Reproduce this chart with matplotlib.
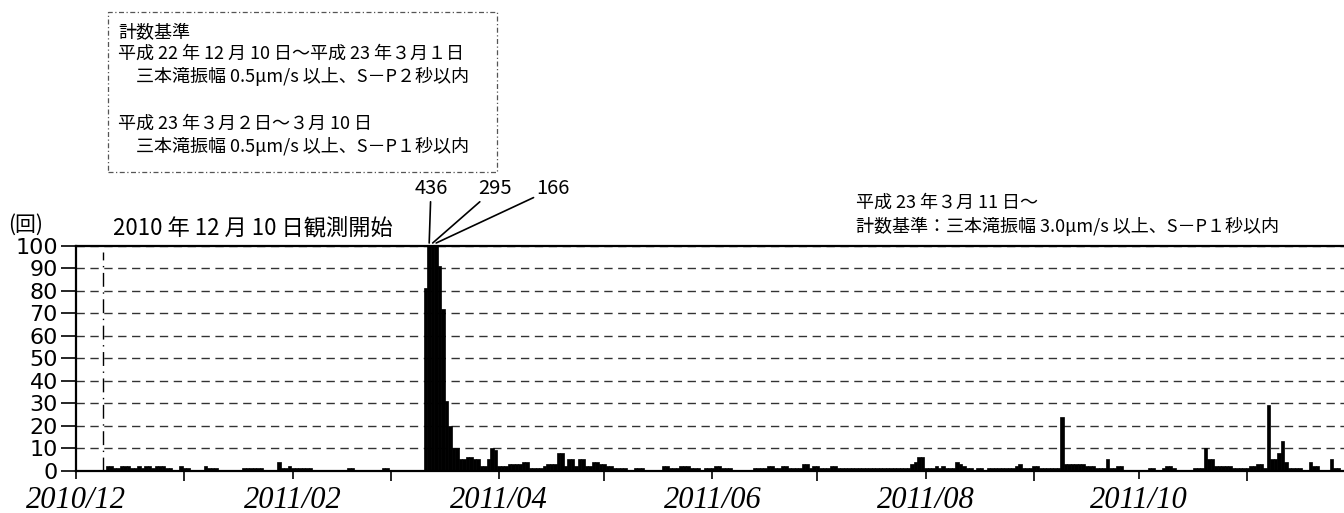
import numpy as np
import pandas as pd
import matplotlib
matplotlib.use('Agg')
import matplotlib.pyplot as plt
import matplotlib.dates as mdates

JP = ['Noto Sans CJK JP', 'DejaVu Sans']

# daily counts, one list per month (index 0 = 1st of the month)
dec_2010 = [0, 0, 0, 0, 0, 0, 0, 0, 0, 2, 2, 1, 1, 2, 2, 2, 1, 1, 2, 1,
            2, 2, 1, 2, 2, 2, 1, 1, 0, 0, 2]
jan_2011 = [1, 1, 0, 0, 0, 0, 2, 1, 1, 1, 0, 0, 0, 0, 0, 0, 0, 1, 1, 1,
            1, 1, 1, 0, 0, 0, 0, 4, 1, 1, 2]
feb_2011 = [1, 1, 1, 1, 1, 1, 0, 0, 0, 0, 0, 0, 0, 0, 0, 0, 1, 1, 0, 0,
            0, 0, 0, 0, 0, 0, 1, 1]
mar_2011 = [0, 0, 0, 0, 0, 0, 0, 0, 0, 0, 81, 436, 295, 166, 91, 72, 31, 20, 10, 10,
            5, 5, 6, 6, 5, 5, 2, 2, 5, 10, 9]
apr_2011 = [2, 2, 2, 3, 3, 3, 3, 4, 4, 1, 1, 1, 1, 2, 3, 3, 3, 8, 8, 2,
            5, 5, 2, 5, 5, 2, 2, 4, 4, 3]
may_2011 = [3, 2, 2, 1, 1, 1, 1, 0, 0, 1, 1, 1, 0, 0, 0, 0, 0, 2, 2, 1,
            1, 1, 2, 2, 2, 1, 1, 1, 0, 1, 1]
jun_2011 = [1, 2, 2, 1, 1, 1, 0, 0, 0, 0, 0, 0, 1, 1, 1, 1, 2, 2, 1, 1,
            2, 2, 1, 1, 1, 1, 3, 3, 1, 2]
jul_2011 = [2, 1, 1, 1, 2, 2, 1, 1, 1, 1, 1, 1, 1, 1, 1, 1, 1, 1, 1, 1,
            1, 1, 1, 1, 1, 1, 1, 3, 4, 6, 6]
aug_2011 = [1, 1, 1, 2, 1, 2, 1, 1, 1, 4, 3, 2, 1, 1, 0, 1, 1, 0, 1, 1,
            1, 1, 1, 1, 1, 1, 2, 3, 1, 1, 1]
sep_2011 = [2, 2, 1, 1, 1, 1, 1, 1, 24, 3, 3, 3, 3, 3, 3, 2, 2, 2, 1, 1,
            1, 5, 1, 1, 2, 2, 0, 0, 0, 0]
oct_2011 = [0, 0, 0, 1, 1, 0, 0, 1, 2, 2, 1, 0, 0, 0, 0, 0, 1, 1, 1, 10,
            5, 5, 2, 2, 2, 2, 2, 1, 1, 1, 1]
nov_2011 = [1, 2, 2, 3, 3, 1, 29, 5, 5, 8, 13, 4, 1, 1, 1, 1, 0, 0, 4, 2,
            2, 0, 0, 0, 5, 1, 1, 0, 0, 0]

months = ['2010-12', '2011-01', '2011-02', '2011-03', '2011-04', '2011-05',
          '2011-06', '2011-07', '2011-08', '2011-09', '2011-10', '2011-11']
monthly = [dec_2010, jan_2011, feb_2011, mar_2011, apr_2011, may_2011,
           jun_2011, jul_2011, aug_2011, sep_2011, oct_2011, nov_2011]

# labelled off-scale days
big_days = ['2011-03-12', '2011-03-13', '2011-03-14']
big_labels = ['436', '295', '166']

title = '2010 年 12 月 10 日観測開始'
unit = '(回)'
box_lines = ['計数基準',
             '平成 22 年 12 月 10 日～平成 23 年３月１日',
             '　三本滝振幅 0.5μm/s 以上、S－P２秒以内',
             '',
             '平成 23 年３月２日～３月 10 日',
             '　三本滝振幅 0.5μm/s 以上、S－P１秒以内']
note_lines = ['平成 23 年３月 11 日～',
              '計数基準：三本滝振幅 3.0μm/s 以上、S－P１秒以内']

dates = []
counts = []
for m, vals in zip(months, monthly):
    dates.extend(pd.date_range(m + '-01', periods=len(vals), freq='D'))
    counts.extend(vals)
dates = pd.DatetimeIndex(dates)
counts = np.array(counts)

W, H = 1344, 513
fig = plt.figure(figsize=(W / 100, H / 100), dpi=100)

def fx(px):
    return px / W

def fy(py):
    return 1 - py / H

ax = fig.add_axes([fx(76), fy(470.7), 1 - fx(76), (470.7 - 245.7) / H])

ax.bar(dates, counts, width=1.0, align='center', color='k',
       edgecolor='k', linewidth=0.5, zorder=3)

start = pd.Timestamp('2010-12-01')
ax.set_xlim(start, start + pd.Timedelta(days=362.6))
ax.set_ylim(0, 100)

ax.set_yticks(np.arange(0, 101, 10))
ax.yaxis.grid(True, linestyle=(0, (6, 4)), color='#333333', linewidth=1.0)
ax.set_axisbelow(True)
ax.tick_params(axis='y', direction='out', length=11, width=1.2, pad=2,
               labelsize=16)
for lab in ax.get_yticklabels():
    lab.set_fontfamily('DejaVu Sans')

ax.xaxis.set_major_locator(mdates.MonthLocator(bymonth=[12, 2, 4, 6, 8, 10]))
ax.xaxis.set_minor_locator(mdates.MonthLocator())
ax.xaxis.set_major_formatter(mdates.DateFormatter('%Y/%m'))
ax.tick_params(axis='x', which='major', direction='out', length=6, width=1.2,
               pad=5, labelsize=22)
ax.tick_params(axis='x', which='minor', direction='out', length=7, width=1.2)
for lab in ax.get_xticklabels():
    lab.set_fontfamily('Liberation Serif')
    lab.set_fontstyle('italic')

for side in ['left', 'top', 'bottom']:
    ax.spines[side].set_linewidth(1.6)
ax.spines['right'].set_visible(False)

# observation start marker
obs = pd.Timestamp('2010-12-08 15:00')
ax.plot([obs, obs], [0, 97], color='k', linewidth=1.0,
        linestyle=(0, (10, 4, 1, 4)), zorder=4)

# off-scale values
text_x = [431, 495, 553]
for d, lab, tx in zip(big_days, big_labels, text_x):
    ax.annotate(lab, xy=(pd.Timestamp(d), 101.2), xycoords='data',
                xytext=(fx(tx), fy(199)), textcoords='figure fraction',
                ha='center', va='bottom', fontsize=14.5, family=JP,
                annotation_clip=False,
                arrowprops=dict(arrowstyle='-', lw=1.2, color='k',
                                shrinkA=0, shrinkB=0))

fig.text(fx(8), fy(225), unit, fontsize=15, family=JP, va='center', ha='left')
fig.text(fx(113), fy(228), title, fontsize=16, family=JP, va='center', ha='left')

# criteria box
box_y = [33, 54, 77, 100, 124, 147]
for line, y in zip(box_lines, box_y):
    fig.text(fx(118), fy(y), line, fontsize=13, family=JP, va='center', ha='left')
box = plt.Rectangle((fx(108), fy(172)), fx(497) - fx(108), fy(12) - fy(172),
                    transform=fig.transFigure, fill=False, edgecolor='#555555',
                    linewidth=0.9, linestyle=(0, (4, 2, 1, 2)))
fig.patches.append(box)

for line, y in zip(note_lines, [203, 226]):
    fig.text(fx(856), fy(y), line, fontsize=13, family=JP, va='center', ha='left')

fig.savefig('out.png', dpi=100)
